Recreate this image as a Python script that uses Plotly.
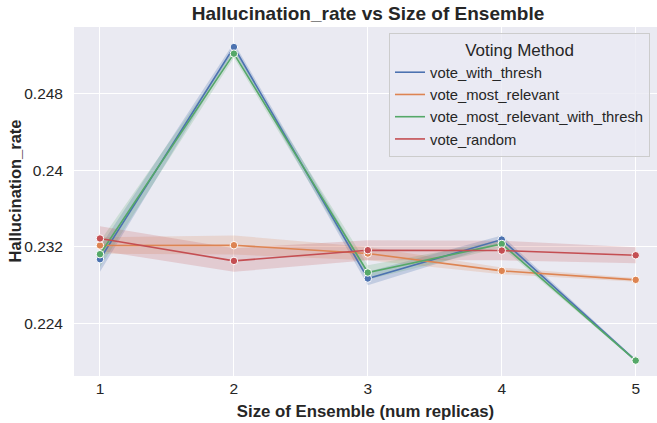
import plotly.graph_objects as go

sizes = [1, 2, 3, 4, 5]
methods = ["vote_with_thresh", "vote_most_relevant", "vote_most_relevant_with_thresh", "vote_random"]
colors = ["#4c72b0", "#dd8452", "#55a868", "#c44e52"]
fills = ["rgba(76,114,176,0.25)", "rgba(221,132,82,0.2)", "rgba(85,168,104,0.2)", "rgba(196,78,82,0.2)"]

vote_with_thresh = [0.23072, 0.25286, 0.22870, 0.23277, 0.22014]
vote_with_thresh_lo = [0.22940, 0.25245, 0.22800, 0.23235, 0.22004]
vote_with_thresh_hi = [0.23200, 0.25330, 0.22940, 0.23320, 0.22024]

vote_most_relevant = [0.23215, 0.23218, 0.23131, 0.22950, 0.22856]
vote_most_relevant_lo = [0.23130, 0.23120, 0.23060, 0.22915, 0.22836]
vote_most_relevant_hi = [0.23300, 0.23320, 0.23200, 0.22985, 0.22876]

vote_most_relevant_with_thresh = [0.23124, 0.25217, 0.22933, 0.23231, 0.22014]
vote_most_relevant_with_thresh_lo = [0.22990, 0.25175, 0.22860, 0.23195, 0.22004]
vote_most_relevant_with_thresh_hi = [0.23260, 0.25260, 0.23010, 0.23270, 0.22024]

vote_random = [0.23288, 0.23054, 0.23166, 0.23162, 0.23113]
vote_random_lo = [0.23160, 0.22940, 0.23060, 0.23060, 0.23030]
vote_random_hi = [0.23416, 0.23186, 0.23270, 0.23265, 0.23196]

y_ticks = [0.224, 0.232, 0.240, 0.248]
y_tick_labels = ["0.224", "0.232", "0.24", "0.248"]

series = [
    (vote_with_thresh, vote_with_thresh_lo, vote_with_thresh_hi),
    (vote_most_relevant, vote_most_relevant_lo, vote_most_relevant_hi),
    (vote_most_relevant_with_thresh, vote_most_relevant_with_thresh_lo, vote_most_relevant_with_thresh_hi),
    (vote_random, vote_random_lo, vote_random_hi),
]

FONT = "Liberation Sans, Arial, sans-serif"
fig = go.Figure()

for (vals, lo, hi), name, c, f in zip(series, methods, colors, fills):
    fig.add_trace(go.Scatter(x=sizes + sizes[::-1], y=hi + lo[::-1], fill="toself",
                             fillcolor=f, line=dict(width=0), mode="lines",
                             hoverinfo="skip", showlegend=False))

for (vals, lo, hi), name, c, f in zip(series, methods, colors, fills):
    fig.add_trace(go.Scatter(x=sizes, y=vals, mode="lines+markers", name=name,
                             line=dict(color=c, width=1.6),
                             marker=dict(color=c, size=7.5, line=dict(color="white", width=1)),
                             showlegend=False))

for name, c in zip(methods, colors):
    fig.add_trace(go.Scatter(x=[None], y=[None], mode="lines", name=name,
                             line=dict(color=c, width=1.6)))

fig.update_layout(
    width=657, height=423,
    margin=dict(l=74, r=0, t=27, b=47, autoexpand=False),
    paper_bgcolor="white",
    plot_bgcolor="#eaeaf2",
    font=dict(family=FONT, color="#262626"),
    title=dict(text="<b>Hallucination_rate vs Size of Ensemble</b>",
               x=368 / 657, xanchor="center", xref="container",
               y=1 - 13 / 423, yanchor="middle", yref="container",
               font=dict(size=19, color="#262626")),
    xaxis=dict(range=[0.806, 5.159], tickvals=sizes, ticktext=[str(s) for s in sizes],
               showgrid=True, gridcolor="white", gridwidth=1, zeroline=False,
               showline=False, ticks="", tickfont=dict(size=15.5), ticklabelstandoff=1,
               title=dict(text="<b>Size of Ensemble (num replicas)</b>", font=dict(size=16.8), standoff=9)),
    yaxis=dict(range=[0.21853, 0.25495], tickvals=y_ticks, ticktext=y_tick_labels,
               showgrid=True, gridcolor="white", gridwidth=1, zeroline=False,
               showline=False, ticks="", tickfont=dict(size=15.5), ticklabelstandoff=10),
    annotations=[dict(text="<b>Hallucination_rate</b>", textangle=-90, showarrow=False,
                      xref="paper", yref="paper", x=(15 - 74) / 583, y=(376 - 191.5) / 349,
                      xanchor="center", yanchor="middle", font=dict(size=16.5, color="#262626"))],
    legend=dict(x=(389 - 74) / 583, y=(376 - 33) / 349, xref="paper", yref="paper",
                xanchor="left", yanchor="top",
                bgcolor="rgba(234,234,242,0.8)", bordercolor="#cccccc", borderwidth=1,
                font=dict(size=14.8, color="#262626"),
                title=dict(text="Voting Method", side="top center", font=dict(size=17)),
                tracegroupgap=0, itemwidth=30),
    showlegend=True,
)

fig.write_html("out.html", config={"displayModeBar": False},
               post_script="document.body.style.margin='0';")
